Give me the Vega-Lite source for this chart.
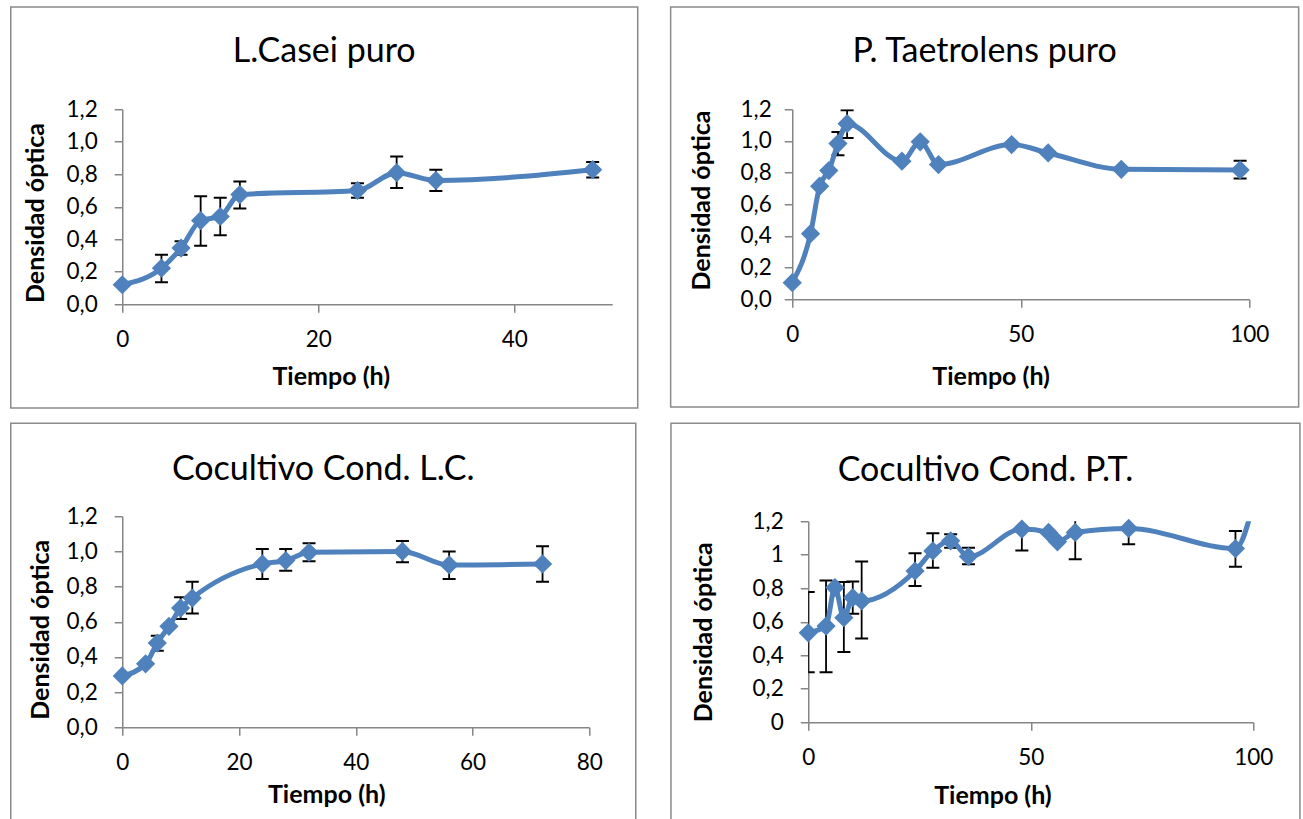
{
  "$schema": "https://vega.github.io/schema/vega-lite/v6.json",
  "background": "white",
  "padding": {"left": 9.25, "top": 5.25, "right": 0, "bottom": 0},
  "config": {
    "view": {"stroke": null},
    "font": "Lato",
    "axis": {"grid": false, "domainColor": "#868686", "domainWidth": 1.5, "tickColor": "#868686", "tickWidth": 1.5, "tickSize": 8, "labelFontSize": 22.5, "labelColor": "#000000", "titleFontSize": 25, "titleFontWeight": "bold", "titleColor": "#000000", "labelFlush": false, "labelOverlap": false, "titleBaseline": "middle"},
    "axisX": {"labelPadding": 27, "labelBaseline": "middle"},
    "axisY": {"labelPadding": 17},
    "title": {"fontSize": 34, "fontWeight": "normal", "color": "#000000", "frame": "bounds", "anchor": "middle", "baseline": "middle"}
  },
  "datasets": {
    "lc": [
      {"t": 0, "od": 0.12},
      {"t": 4, "od": 0.222, "lo": 0.135, "hi": 0.305},
      {"t": 6, "od": 0.346, "lo": 0.305, "hi": 0.387},
      {"t": 8, "od": 0.515, "lo": 0.36, "hi": 0.665},
      {"t": 10, "od": 0.54, "lo": 0.425, "hi": 0.655},
      {"t": 12, "od": 0.675, "lo": 0.59, "hi": 0.755},
      {"t": 24, "od": 0.70, "lo": 0.655, "hi": 0.745},
      {"t": 28, "od": 0.81, "lo": 0.715, "hi": 0.91},
      {"t": 32, "od": 0.762, "lo": 0.697, "hi": 0.827},
      {"t": 48, "od": 0.828, "lo": 0.78, "hi": 0.876}
    ],
    "pt": [
      {"t": 0, "od": 0.105},
      {"t": 4, "od": 0.414},
      {"t": 6, "od": 0.714},
      {"t": 8, "od": 0.813},
      {"t": 10, "od": 0.983, "lo": 0.91, "hi": 1.057},
      {"t": 12, "od": 1.109, "lo": 1.019, "hi": 1.194},
      {"t": 24, "od": 0.872},
      {"t": 28, "od": 0.994},
      {"t": 32, "od": 0.851},
      {"t": 48, "od": 0.977},
      {"t": 56, "od": 0.924},
      {"t": 72, "od": 0.821},
      {"t": 98, "od": 0.817, "lo": 0.763, "hi": 0.874}
    ],
    "colc": [
      {"t": 0, "od": 0.292},
      {"t": 4, "od": 0.361},
      {"t": 6, "od": 0.479, "lo": 0.435, "hi": 0.52},
      {"t": 8, "od": 0.574},
      {"t": 10, "od": 0.678, "lo": 0.615, "hi": 0.739},
      {"t": 12, "od": 0.735, "lo": 0.647, "hi": 0.828},
      {"t": 24, "od": 0.929, "lo": 0.843, "hi": 1.014},
      {"t": 28, "od": 0.948, "lo": 0.89, "hi": 1.014},
      {"t": 32, "od": 0.995, "lo": 0.944, "hi": 1.046},
      {"t": 48, "od": 1.0, "lo": 0.938, "hi": 1.059},
      {"t": 56, "od": 0.923, "lo": 0.843, "hi": 1.0},
      {"t": 72, "od": 0.929, "lo": 0.828, "hi": 1.029}
    ],
    "copt": [
      {"t": 0, "od": 0.534, "lo": 0.299, "hi": 0.777},
      {"t": 4, "od": 0.574, "lo": 0.299, "hi": 0.847},
      {"t": 6, "od": 0.804},
      {"t": 8, "od": 0.624, "lo": 0.419, "hi": 0.837},
      {"t": 10, "od": 0.744, "lo": 0.648, "hi": 0.841},
      {"t": 12, "od": 0.724, "lo": 0.5, "hi": 0.959},
      {"t": 24, "od": 0.903, "lo": 0.813, "hi": 1.009},
      {"t": 28, "od": 1.023, "lo": 0.923, "hi": 1.128},
      {"t": 32, "od": 1.083, "lo": 1.042, "hi": 1.122},
      {"t": 36, "od": 0.989, "lo": 0.943, "hi": 1.042},
      {"t": 48, "od": 1.153, "lo": 1.026, "hi": 1.28},
      {"t": 54, "od": 1.133},
      {"t": 56, "od": 1.077},
      {"t": 60, "od": 1.133, "lo": 0.973, "hi": 1.29},
      {"t": 72, "od": 1.157, "lo": 1.062, "hi": 1.25},
      {"t": 96, "od": 1.037, "lo": 0.929, "hi": 1.142},
      {"t": 100, "od": 1.3}
    ]
  },
  "columns": 2,
  "align": "none",
  "spacing": {"row": 13, "column": 30},
  "concat": [
    {
      "width": 490, "height": 195,
      "data": {"name": "lc"},
      "title": {"text": "L.Casei puro", "offset": -63},
      "encoding": {
        "x": {"field": "t", "type": "quantitative", "scale": {"domain": [0, 50], "nice": false, "zero": false}, "axis": {"values": [0, 20, 40], "title": "Tiempo (h)", "titleX": 208.5, "titleY": 71.75}},
        "y": {"field": "od", "type": "quantitative", "scale": {"domain": [0, 1.2], "nice": false, "zero": false}, "axis": {"values": [0, 0.2, 0.4, 0.6, 0.8, 1, 1.2], "labelExpr": "replace(format(datum.value,'.1f'),'.',',')", "title": "Densidad óptica", "titleX": -86.5, "titleY": 103.25}}
      },
      "layer": [
        {"data": {"values": [{"x0": -11.378, "x1": 52.6, "y0": -0.6385, "y1": 1.829}]}, "mark": {"type": "rect", "fill": "transparent", "stroke": "#8a8a8a", "strokeWidth": 1.5, "clip": false},
         "encoding": {"x": {"field": "x0", "type": "quantitative", "title": "Tiempo (h)"}, "x2": {"field": "x1"}, "y": {"field": "y0", "type": "quantitative", "title": "Densidad óptica"}, "y2": {"field": "y1"}}},
        {"mark": {"type": "rule", "color": "black", "strokeWidth": 1.8, "clip": true},
         "encoding": {"y": {"field": "lo", "type": "quantitative", "title": "Densidad óptica"}, "y2": {"field": "hi"}}},
        {"mark": {"type": "tick", "orient": "horizontal", "size": 13, "thickness": 2, "color": "black", "opacity": 1, "clip": true},
         "encoding": {"y": {"field": "lo", "type": "quantitative", "title": "Densidad óptica"}}},
        {"mark": {"type": "tick", "orient": "horizontal", "size": 13, "thickness": 2, "color": "black", "opacity": 1, "clip": true},
         "encoding": {"y": {"field": "hi", "type": "quantitative", "title": "Densidad óptica"}}},
        {"mark": {"type": "line", "interpolate": "monotone", "strokeWidth": 5, "color": "#4F81BD", "clip": true}},
        {"mark": {"type": "point", "shape": "diamond", "filled": true, "size": 370, "color": "#4F81BD", "opacity": 1, "clip": false}}
      ]
    },
    {
      "width": 457, "height": 190,
      "data": {"name": "pt"},
      "title": {"text": "P. Taetrolens puro", "offset": -63},
      "encoding": {
        "x": {"field": "t", "type": "quantitative", "scale": {"domain": [0, 100], "nice": false, "zero": false}, "axis": {"values": [0, 50, 100], "title": "Tiempo (h)", "titleX": 198.4, "titleY": 76.75}},
        "y": {"field": "od", "type": "quantitative", "scale": {"domain": [0, 1.2], "nice": false, "zero": false}, "axis": {"values": [0, 0.2, 0.4, 0.6, 0.8, 1, 1.2], "labelExpr": "replace(format(datum.value,'.1f'),'.',',')", "title": "Densidad óptica", "titleX": -90.6, "titleY": 90.75, "labelPadding": 13}}
      },
      "layer": [
        {"data": {"values": [{"x0": -26.61, "x1": 110.81, "y0": -0.6805, "y1": 1.846}]}, "mark": {"type": "rect", "fill": "transparent", "stroke": "#8a8a8a", "strokeWidth": 1.5, "clip": false},
         "encoding": {"x": {"field": "x0", "type": "quantitative", "title": "Tiempo (h)"}, "x2": {"field": "x1"}, "y": {"field": "y0", "type": "quantitative", "title": "Densidad óptica"}, "y2": {"field": "y1"}}},
        {"mark": {"type": "rule", "color": "black", "strokeWidth": 1.8, "clip": true},
         "encoding": {"y": {"field": "lo", "type": "quantitative", "title": "Densidad óptica"}, "y2": {"field": "hi"}}},
        {"mark": {"type": "tick", "orient": "horizontal", "size": 13, "thickness": 2, "color": "black", "opacity": 1, "clip": true},
         "encoding": {"y": {"field": "lo", "type": "quantitative", "title": "Densidad óptica"}}},
        {"mark": {"type": "tick", "orient": "horizontal", "size": 13, "thickness": 2, "color": "black", "opacity": 1, "clip": true},
         "encoding": {"y": {"field": "hi", "type": "quantitative", "title": "Densidad óptica"}}},
        {"mark": {"type": "line", "interpolate": "monotone", "strokeWidth": 5, "color": "#4F81BD", "clip": true}},
        {"mark": {"type": "point", "shape": "diamond", "filled": true, "size": 370, "color": "#4F81BD", "opacity": 1, "clip": false}}
      ]
    },
    {
      "width": 467, "height": 211,
      "data": {"name": "colc"},
      "title": {"text": "Cocultivo Cond. L.C.", "offset": -65},
      "encoding": {
        "x": {"field": "t", "type": "quantitative", "scale": {"domain": [0, 80], "nice": false, "zero": false}, "axis": {"values": [0, 20, 40, 60, 80], "title": "Tiempo (h)", "titleX": 204, "titleY": 67}},
        "y": {"field": "od", "type": "quantitative", "scale": {"domain": [0, 1.2], "nice": false, "zero": false}, "axis": {"values": [0, 0.2, 0.4, 0.6, 0.8, 1, 1.2], "labelExpr": "replace(format(datum.value,'.1f'),'.',',')", "title": "Densidad óptica", "titleX": -81.9, "titleY": 113}}
      },
      "layer": [
        {"data": {"values": [{"x0": -19.1, "x1": 87.97, "y0": -0.57, "y1": 1.729}]}, "mark": {"type": "rect", "fill": "transparent", "stroke": "#8a8a8a", "strokeWidth": 1.5, "clip": false},
         "encoding": {"x": {"field": "x0", "type": "quantitative", "title": "Tiempo (h)"}, "x2": {"field": "x1"}, "y": {"field": "y0", "type": "quantitative", "title": "Densidad óptica"}, "y2": {"field": "y1"}}},
        {"mark": {"type": "rule", "color": "black", "strokeWidth": 1.8, "clip": true},
         "encoding": {"y": {"field": "lo", "type": "quantitative", "title": "Densidad óptica"}, "y2": {"field": "hi"}}},
        {"mark": {"type": "tick", "orient": "horizontal", "size": 13, "thickness": 2, "color": "black", "opacity": 1, "clip": true},
         "encoding": {"y": {"field": "lo", "type": "quantitative", "title": "Densidad óptica"}}},
        {"mark": {"type": "tick", "orient": "horizontal", "size": 13, "thickness": 2, "color": "black", "opacity": 1, "clip": true},
         "encoding": {"y": {"field": "hi", "type": "quantitative", "title": "Densidad óptica"}}},
        {"mark": {"type": "line", "interpolate": "monotone", "strokeWidth": 5, "color": "#4F81BD", "clip": true}},
        {"mark": {"type": "point", "shape": "diamond", "filled": true, "size": 370, "color": "#4F81BD", "opacity": 1, "clip": false}}
      ]
    },
    {
      "width": 445, "height": 201,
      "data": {"name": "copt"},
      "title": {"text": "Cocultivo Cond. P.T.", "offset": -65},
      "encoding": {
        "x": {"field": "t", "type": "quantitative", "scale": {"domain": [0, 100], "nice": false, "zero": false}, "axis": {"values": [0, 50, 100], "title": "Tiempo (h)", "titleX": 184.2, "titleY": 73}},
        "y": {"field": "od", "type": "quantitative", "scale": {"domain": [0, 1.2], "nice": false, "zero": false}, "axis": {"values": [0, 0.2, 0.4, 0.6, 0.8, 1, 1.2], "labelExpr": "replace(format(datum.value,'~g'),'.',',')", "title": "Densidad óptica", "titleX": -104.3, "titleY": 110.5}}
      },
      "layer": [
        {"data": {"values": [{"x0": -30.85, "x1": 110.49, "y0": -0.63, "y1": 1.785}]}, "mark": {"type": "rect", "fill": "transparent", "stroke": "#8a8a8a", "strokeWidth": 1.5, "clip": false},
         "encoding": {"x": {"field": "x0", "type": "quantitative", "title": "Tiempo (h)"}, "x2": {"field": "x1"}, "y": {"field": "y0", "type": "quantitative", "title": "Densidad óptica"}, "y2": {"field": "y1"}}},
        {"mark": {"type": "rule", "color": "black", "strokeWidth": 1.8, "clip": true},
         "encoding": {"y": {"field": "lo", "type": "quantitative", "title": "Densidad óptica"}, "y2": {"field": "hi"}}},
        {"mark": {"type": "tick", "orient": "horizontal", "size": 13, "thickness": 2, "color": "black", "opacity": 1, "clip": true},
         "encoding": {"y": {"field": "lo", "type": "quantitative", "title": "Densidad óptica"}}},
        {"mark": {"type": "tick", "orient": "horizontal", "size": 13, "thickness": 2, "color": "black", "opacity": 1, "clip": true},
         "encoding": {"y": {"field": "hi", "type": "quantitative", "title": "Densidad óptica"}}},
        {"mark": {"type": "line", "interpolate": "monotone", "strokeWidth": 5, "color": "#4F81BD", "clip": true}},
        {"transform": [{"filter": "datum.t < 100"}], "mark": {"type": "point", "shape": "diamond", "filled": true, "size": 370, "color": "#4F81BD", "opacity": 1, "clip": false}}
      ]
    }
  ]
}
